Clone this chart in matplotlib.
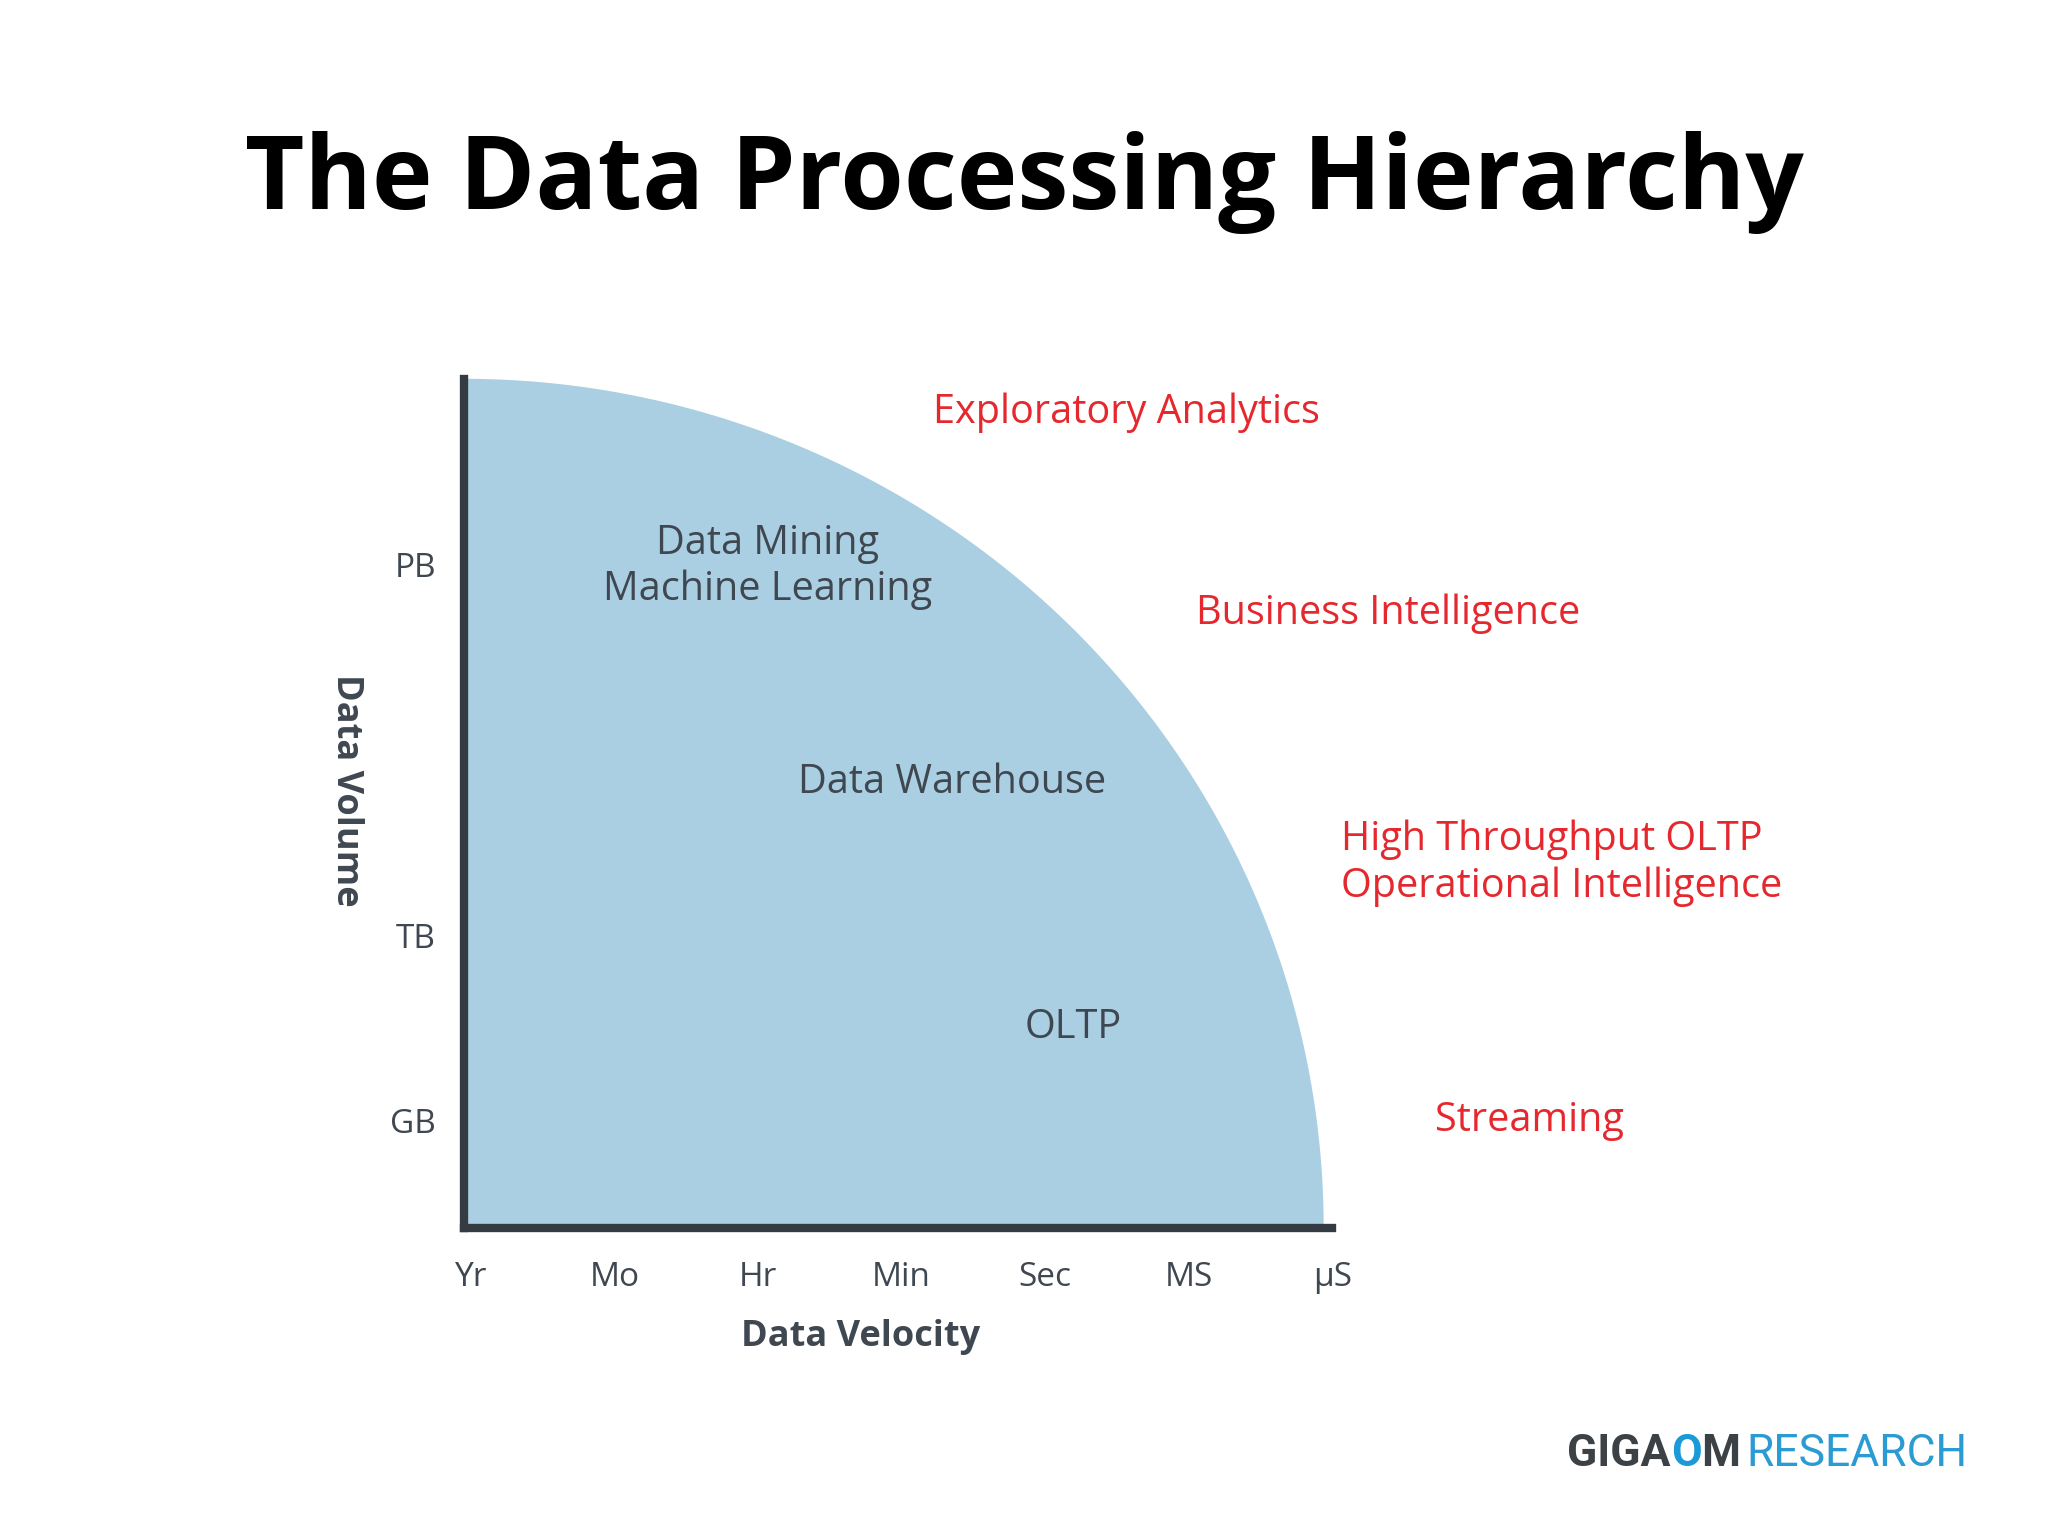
import numpy as np
import matplotlib
matplotlib.use("Agg")
import matplotlib.pyplot as plt

plt.rcParams['font.family'] = ['Open Sans', 'DejaVu Sans']

# reference was laid out on a 1568x1176 canvas
W, H = 1568, 1176

x_labels = ["Yr", "Mo", "Hr", "Min", "Sec", "MS", "µS"]
y_labels = ["GB", "TB", "PB"]
y_pos = [82, 224, 508]          # height above the velocity axis
inner_labels = ["Data Mining\nMachine Learning", "Data Warehouse", "OLTP"]
inner_xy = [(2.13, 506), (3.42, 341), (4.27, 153)]
red_labels = ["Exploratory Analytics", "Business Intelligence",
              "High Throughput OLTP\nOperational Intelligence", "Streaming"]
red_xy = [(714, 316), (916, 470), (1027, 661), (1099, 858)]

GRAY = "#3f4751"
RED = "#e5282e"
FILL = "#abcfe2"
LINE = "#343b43"


def fx(px):
    return px / W


def fy(py):
    return 1 - py / H


fig = plt.figure(figsize=(20.48, 15.36), dpi=100)

fig.text(fx(784), fy(140), "The Data Processing Hierarchy", ha="center", va="center",
         fontsize=74, fontweight="bold", color="black")

ax = fig.add_axes([fx(355), fy(940), fx(1020) - fx(355), fy(290) - fy(940)])
ax.set_xlim(0, 6)
ax.set_ylim(0, 650)

t = np.linspace(0, np.pi / 2, 200)
xs = np.concatenate([[0], 6.02 * np.cos(t), [0]])
ys = np.concatenate([[0], 650 * np.sin(t), [0]])
ax.fill(xs, ys, color=FILL, lw=0, zorder=1, clip_on=False)

for s in ["top", "right"]:
    ax.spines[s].set_visible(False)
for s in ["left", "bottom"]:
    ax.spines[s].set_color(LINE)
    ax.spines[s].set_linewidth(6)
    ax.spines[s].set_zorder(3)

ax.set_xticks(np.arange(len(x_labels)) * 1.005 + 0.05)
ax.set_xticklabels(x_labels, fontsize=24, color=GRAY)
ax.set_yticks(y_pos)
ax.set_yticklabels(y_labels, fontsize=24, color=GRAY)
ax.tick_params(axis="x", length=0, pad=24)
ax.tick_params(axis="y", length=0, pad=20)

for lab, (x, y) in zip(inner_labels, inner_xy):
    ax.text(x, y, lab, ha="center", va="center", fontsize=28.5, color=GRAY,
            linespacing=1.2, zorder=4)

for lab, (x, y) in zip(red_labels, red_xy):
    fig.text(fx(x), fy(y), lab, ha="left", va="center", fontsize=28.5, color=RED,
             linespacing=1.2)

fig.text(fx(659), fy(1024), "Data Velocity", ha="center", va="center",
         fontsize=26, fontweight="bold", color=GRAY)
fig.text(fx(265), fy(605), "Data Volume", ha="center", va="center", rotation=-90,
         fontsize=26, fontweight="bold", color=GRAY)

# logo, pieces chained so they sit flush
logo = [("GIGA", "#3c4146", "bold"), ("O", "#1a9ad6", "bold"),
        ("M", "#3c4146", "bold"), ("RESEARCH", "#2a9bd3", "normal")]
prev = fig.text(fx(1200), fy(1113), logo[0][0], ha="left", va="center", fontsize=32,
                fontweight=logo[0][2], color=logo[0][1], family="Roboto")
for i, (word, col, wt) in enumerate(logo[1:]):
    gap = 6 if word == "RESEARCH" else 0
    prev = ax.annotate(word, xy=(1, 0.5), xycoords=prev, xytext=(gap, 0),
                       textcoords="offset pixels", ha="left", va="center",
                       fontsize=32, fontweight=wt, color=col, family="Roboto",
                       annotation_clip=False)

fig.savefig("out.png", dpi=100, facecolor="white")
